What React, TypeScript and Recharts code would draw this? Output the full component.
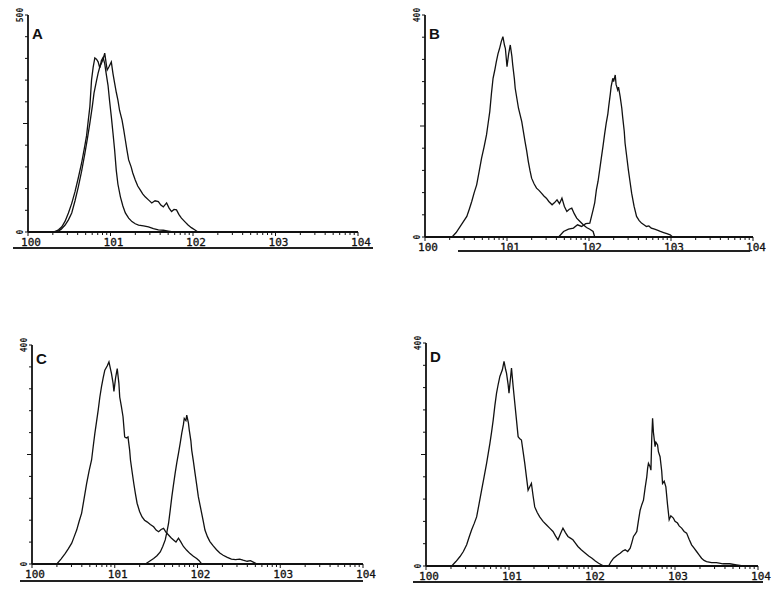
import React from "react";
import { LineChart, Line, XAxis, YAxis } from "recharts";

type Pt = [number, number];

// x = log10 of fluorescence (decades), y = cell count
const DECADES = [0, 1, 2, 3, 4];
const DECADE_LABELS = ["100", "101", "102", "103", "104"];
const MINOR_STEPS = [2, 3, 4, 5, 6, 7, 8, 9];
const Y_TICKS_500 = [0, 50, 100, 150, 200, 250, 300, 350, 400, 450, 500];
const Y_TICKS_400 = [0, 40, 80, 120, 160, 200, 240, 280, 320, 360, 400];

const A_CONTROL: Pt[] = [[0.31,0],[0.37,5],[0.41,12],[0.45,25],[0.49,44],[0.53,66],[0.57,93],[0.61,125],[0.65,159],[0.69,200],[0.71,222],[0.73,256],[0.75,289],[0.77,350],[0.79,380],[0.81,401],[0.83,398],[0.85,392],[0.87,378],[0.89,395],[0.91,402],[0.93,388],[0.95,362],[0.97,338],[0.99,300],[1.01,266],[1.03,228],[1.05,189],[1.07,142],[1.09,110],[1.12,81],[1.15,60],[1.18,44],[1.22,32],[1.26,24],[1.30,19],[1.34,16],[1.40,14],[1.46,12],[1.52,8],[1.58,5],[1.64,4],[1.70,2],[1.76,0]];
const A_STAINED: Pt[] = [[0.35,0],[0.40,6],[0.45,16],[0.49,28],[0.53,44],[0.57,72],[0.61,104],[0.65,140],[0.69,182],[0.72,215],[0.75,251],[0.78,290],[0.80,320],[0.83,348],[0.85,366],[0.87,380],[0.89,389],[0.91,398],[0.93,412],[0.95,385],[0.96,373],[0.98,380],[1.01,392],[1.03,365],[1.05,343],[1.07,322],[1.09,304],[1.11,280],[1.14,258],[1.16,236],[1.18,212],[1.20,188],[1.22,166],[1.25,150],[1.27,136],[1.30,120],[1.33,106],[1.36,97],[1.39,88],[1.42,81],[1.46,74],[1.50,67],[1.54,72],[1.58,70],[1.61,62],[1.64,58],[1.68,67],[1.71,55],[1.74,47],[1.77,52],[1.80,51],[1.83,40],[1.86,32],[1.90,24],[1.94,16],[1.98,10],[2.02,5],[2.06,0]];

const B_CONTROL: Pt[] = [[0.33,0],[0.38,8],[0.43,19],[0.47,28],[0.51,37],[0.54,50],[0.57,64],[0.60,80],[0.63,94],[0.66,118],[0.69,142],[0.72,162],[0.75,184],[0.77,205],[0.79,226],[0.81,258],[0.83,286],[0.85,300],[0.87,316],[0.89,330],[0.91,340],[0.93,352],[0.95,361],[0.97,345],[0.98,340],[1.00,307],[1.02,330],[1.04,346],[1.06,325],[1.07,310],[1.09,285],[1.10,268],[1.12,250],[1.14,232],[1.16,220],[1.18,208],[1.20,190],[1.22,172],[1.24,155],[1.26,136],[1.28,120],[1.30,106],[1.33,96],[1.36,88],[1.39,84],[1.42,79],[1.45,74],[1.48,70],[1.51,64],[1.55,58],[1.58,62],[1.61,67],[1.64,60],[1.67,70],[1.70,55],[1.73,46],[1.76,50],[1.79,52],[1.82,42],[1.85,34],[1.89,28],[1.93,22],[1.97,17],[2.01,14],[2.05,10],[2.07,0]];
const B_STAINED: Pt[] = [[1.63,0],[1.69,10],[1.75,14],[1.81,16],[1.86,22],[1.91,19],[1.96,24],[2.01,25],[2.05,49],[2.07,62],[2.09,85],[2.11,100],[2.13,121],[2.15,142],[2.17,163],[2.19,185],[2.21,205],[2.23,222],[2.24,235],[2.26,258],[2.27,271],[2.29,286],[2.30,280],[2.32,292],[2.33,275],[2.35,265],[2.36,270],[2.38,253],[2.40,232],[2.41,217],[2.43,190],[2.44,169],[2.46,145],[2.48,121],[2.50,100],[2.52,79],[2.55,55],[2.58,37],[2.61,30],[2.64,25],[2.67,22],[2.70,19],[2.73,20],[2.76,16],[2.80,14],[2.84,12],[2.87,10],[2.91,8],[2.95,6],[2.99,4],[3.02,0]];

const C_CONTROL: Pt[] = [[0.30,0],[0.35,9],[0.40,19],[0.44,28],[0.48,38],[0.51,50],[0.54,62],[0.57,78],[0.60,93],[0.63,120],[0.66,147],[0.69,170],[0.72,190],[0.74,215],[0.76,239],[0.78,260],[0.80,281],[0.82,305],[0.84,324],[0.86,340],[0.88,354],[0.91,362],[0.93,369],[0.95,355],[0.96,348],[0.98,330],[0.99,315],[1.01,340],[1.03,357],[1.05,330],[1.06,305],[1.08,288],[1.10,269],[1.12,232],[1.14,230],[1.16,232],[1.18,208],[1.19,190],[1.21,168],[1.23,147],[1.25,128],[1.27,111],[1.30,96],[1.33,86],[1.36,80],[1.39,77],[1.43,72],[1.47,68],[1.50,62],[1.53,59],[1.56,63],[1.59,65],[1.62,58],[1.65,53],[1.68,48],[1.71,44],[1.74,40],[1.77,47],[1.80,40],[1.83,32],[1.87,25],[1.91,19],[1.95,14],[1.99,10],[2.02,6],[2.05,0]];
const C_STAINED: Pt[] = [[1.37,0],[1.42,5],[1.47,10],[1.51,15],[1.55,22],[1.58,32],[1.61,44],[1.63,58],[1.65,74],[1.67,98],[1.69,123],[1.71,145],[1.73,166],[1.75,185],[1.77,202],[1.79,220],[1.81,239],[1.83,255],[1.84,266],[1.86,262],[1.87,272],[1.89,258],[1.90,245],[1.92,225],[1.93,208],[1.95,188],[1.97,166],[1.99,145],[2.01,123],[2.03,108],[2.05,93],[2.07,78],[2.09,62],[2.12,50],[2.15,41],[2.19,33],[2.23,26],[2.27,20],[2.31,16],[2.36,12],[2.41,9],[2.46,8],[2.51,9],[2.55,7],[2.60,5],[2.64,6],[2.68,3],[2.72,0]];

const D_CONTROL: Pt[] = [[0.31,0],[0.36,8],[0.41,17],[0.45,26],[0.49,38],[0.52,52],[0.55,65],[0.58,76],[0.61,88],[0.64,112],[0.67,136],[0.70,160],[0.73,184],[0.75,202],[0.77,220],[0.79,240],[0.81,262],[0.83,288],[0.85,310],[0.87,326],[0.89,340],[0.92,352],[0.94,367],[0.96,352],[0.97,346],[0.99,325],[1.00,310],[1.02,340],[1.03,355],[1.05,322],[1.07,292],[1.09,262],[1.11,232],[1.13,228],[1.15,226],[1.17,205],[1.19,184],[1.21,160],[1.23,136],[1.25,142],[1.27,148],[1.29,126],[1.31,106],[1.34,96],[1.37,88],[1.41,80],[1.45,74],[1.49,68],[1.53,62],[1.56,54],[1.59,47],[1.62,58],[1.65,68],[1.68,60],[1.71,53],[1.74,50],[1.77,47],[1.80,41],[1.83,35],[1.87,29],[1.92,23],[1.96,18],[2.00,14],[2.04,9],[2.08,5],[2.14,0]];
const D_STAINED: Pt[] = [[2.20,0],[2.23,8],[2.26,14],[2.30,19],[2.34,23],[2.37,27],[2.40,29],[2.43,26],[2.46,32],[2.48,42],[2.50,53],[2.52,57],[2.54,62],[2.56,82],[2.58,100],[2.60,110],[2.62,118],[2.64,140],[2.66,160],[2.67,175],[2.68,184],[2.70,178],[2.71,172],[2.72,230],[2.73,265],[2.74,240],[2.76,214],[2.77,222],[2.79,217],[2.80,205],[2.82,196],[2.84,170],[2.85,148],[2.87,152],[2.89,142],[2.91,110],[2.93,83],[2.95,90],[2.98,86],[3.00,80],[3.03,77],[3.05,72],[3.08,68],[3.11,62],[3.14,59],[3.17,48],[3.20,38],[3.23,32],[3.26,26],[3.29,20],[3.32,14],[3.35,10],[3.38,8],[3.44,6],[3.50,6],[3.58,4],[3.66,4],[3.74,2],[3.82,0]];

// log-spaced minor ticks inside each decade
const X_TICKS = DECADES.flatMap((d) =>
  d < 4 ? [d, ...MINOR_STEPS.map((m) => d + Math.log10(m))] : [d]
);

const INK = "#111";

function XTick(props: any) {
  const { x, y, payload } = props;
  const idx = DECADES.indexOf(payload.value);
  const major = idx >= 0;
  return (
    <g>
      <line x1={x} x2={x} y1={y} y2={y + (major ? 4 : 3)} stroke={INK} strokeWidth={1} />
      {major && (
        <text
          x={x + 3}
          y={y + 14}
          textAnchor="middle"
          fontFamily="DejaVu Sans Mono"
          fontSize={11}
          fill={INK}
          stroke={INK}
          strokeWidth={0.3}
        >
          {DECADE_LABELS[idx]}
        </text>
      )}
    </g>
  );
}

function YTick(props: any) {
  const { x, y, payload, yMax } = props;
  const v = payload.value;
  const len = v === yMax / 2 ? 5 : 3;
  const showLabel = v === 0 || v === yMax;
  return (
    <g>
      <line x1={x - len} x2={x} y1={y} y2={y} stroke={INK} strokeWidth={1} />
      {showLabel && (
        <text
          x={x - 8}
          y={y}
          transform={`rotate(-90 ${x - 8} ${y})`}
          textAnchor="middle"
          dominantBaseline="middle"
          fontFamily="DejaVu Sans Mono"
          fontWeight="bold"
          fontSize={8}
          fill={INK}
        >
          {v}
        </text>
      )}
    </g>
  );
}

interface PanelProps {
  letter: string;
  left: number;
  top: number;
  width: number;
  height: number;
  yMax: number;
  yTicks: number[];
  series: Pt[][];
}

function Panel({ letter, left, top, width, height, yMax, yTicks, series }: PanelProps) {
  const ML = 16, YW = 12, MT = 10, XH = 30, MR = 20;
  return (
    <>
      <div style={{ position: "absolute", left: left - ML - YW, top: top - MT }}>
        <LineChart
          width={width + ML + YW + MR}
          height={height + MT + XH}
          margin={{ top: MT, right: MR, bottom: 0, left: ML }}
        >
          <XAxis
            type="number"
            dataKey="x"
            domain={[0, 4]}
            ticks={X_TICKS}
            interval={0}
            tick={<XTick />}
            tickLine={false}
            tickSize={0}
            tickMargin={0}
            height={XH}
            stroke={INK}
            strokeWidth={1.8}
            allowDataOverflow
          />
          <YAxis
            type="number"
            domain={[0, yMax]}
            ticks={yTicks}
            interval={0}
            tick={<YTick yMax={yMax} />}
            tickLine={false}
            tickSize={0}
            tickMargin={0}
            width={YW}
            stroke={INK}
            strokeWidth={1.8}
            allowDataOverflow
          />
          {series.map((s, i) => (
            <Line
              key={i}
              data={s.map(([x, y]) => ({ x, y }))}
              dataKey="y"
              type="linear"
              dot={false}
              stroke={INK}
              strokeWidth={1.3}
              isAnimationActive={false}
            />
          ))}
        </LineChart>
      </div>
      <div
        style={{
          position: "absolute",
          left: left + 4,
          top: top + (letter === "A" || letter === "B" ? 11 : 6),
          fontFamily: "Liberation Sans, Arial, sans-serif",
          fontSize: 15,
          fontWeight: "bold",
          lineHeight: "15px",
          color: INK,
        }}
      >
        {letter}
      </div>
    </>
  );
}

function Rule({ left, top, width }: { left: number; top: number; width: number }) {
  return <div style={{ position: "absolute", left, top, width, height: 1.5, background: "#222" }} />;
}

export default function App() {
  return (
    <div style={{ position: "absolute", left: 0, top: 0, width: 779, height: 597, background: "#fff", overflow: "hidden" }}>
      <Panel letter="A" left={28} top={15} width={330} height={217} yMax={500} yTicks={Y_TICKS_500} series={[A_CONTROL, A_STAINED]} />
      <Panel letter="B" left={425} top={15} width={328} height={222} yMax={400} yTicks={Y_TICKS_400} series={[B_CONTROL, B_STAINED]} />
      <Panel letter="C" left={32} top={345} width={331} height={219} yMax={400} yTicks={Y_TICKS_400} series={[C_CONTROL, C_STAINED]} />
      <Panel letter="D" left={426} top={343} width={332} height={223} yMax={400} yTicks={Y_TICKS_400} series={[D_CONTROL, D_STAINED]} />
      <Rule left={13} top={247} width={360} />
      <Rule left={458} top={250} width={292} />
      <Rule left={20} top={580} width={343} />
      <Rule left={413} top={581} width={350} />
    </div>
  );
}
